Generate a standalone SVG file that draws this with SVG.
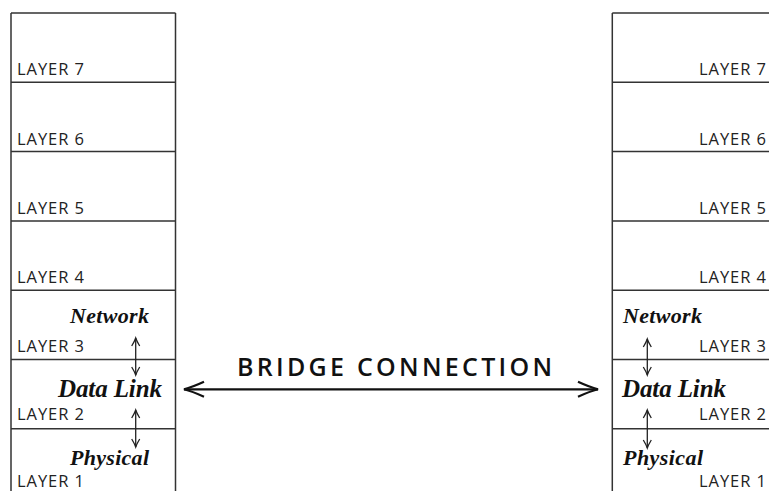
<svg xmlns="http://www.w3.org/2000/svg" width="769" height="491" viewBox="0 0 769 491">
<defs>
<style>
.ln{stroke:#333;stroke-width:1.5;fill:none}
.lay{font-family:"Open Sans","Liberation Sans",sans-serif;font-size:16.5px;fill:#222}
.it{font-family:"Liberation Serif","DejaVu Serif",serif;font-weight:bold;font-style:italic;fill:#111}
.small{stroke:#222;stroke-width:1.3;fill:none}
.big{stroke:#111;stroke-width:2.2;fill:none}
.title{font-family:"Open Sans","Liberation Sans",sans-serif;font-size:25px;font-weight:600;fill:#111}
</style>
<marker id="sa" viewBox="-10 -6 12 12" markerWidth="12" markerHeight="12" refX="0" refY="0" orient="auto-start-reverse" markerUnits="userSpaceOnUse">
<path d="M-8,-4 Q-3,-1 0,0 Q-3,1 -8,4" stroke="#222" stroke-width="1.3" fill="none"/>
</marker>
<marker id="ba" viewBox="-24 -10 26 20" markerWidth="26" markerHeight="20" refX="0" refY="0" orient="auto-start-reverse" markerUnits="userSpaceOnUse">
<path d="M-20,-7.5 Q-8,-2 0,0 Q-8,2 -20,7.5" stroke="#111" stroke-width="2.2" fill="none"/>
</marker>
</defs>
<g id="left-stack">
<path class="ln" d="M11,13 H175.5 M11,13 V491 M175.5,13 V491 M11,82.3 H175.5 M11,151.6 H175.5 M11,220.9 H175.5 M11,290.2 H175.5 M11,359.5 H175.5 M11,428.8 H175.5"/>
</g>
<g id="left-layer7"><text class="lay" x="17" y="75" textLength="67">LAYER 7</text></g>
<g id="left-layer6"><text class="lay" x="17" y="145" textLength="67">LAYER 6</text></g>
<g id="left-layer5"><text class="lay" x="17" y="214" textLength="67">LAYER 5</text></g>
<g id="left-layer4"><text class="lay" x="17" y="283" textLength="67">LAYER 4</text></g>
<g id="left-layer3"><text class="lay" x="17" y="352" textLength="67">LAYER 3</text><text class="it" x="70" y="323" font-size="22" textLength="79">Network</text></g>
<g id="left-layer2"><text class="lay" x="17" y="420" textLength="67">LAYER 2</text><text class="it" x="58" y="397" font-size="25" textLength="104">Data Link</text></g>
<g id="left-layer1"><text class="lay" x="17" y="487" textLength="67">LAYER 1</text><text class="it" x="70" y="465" font-size="22" textLength="79">Physical</text></g>
<g id="right-stack">
<path class="ln" d="M612.3,13 H769 M612.3,13 V491 M612.3,82.3 H769 M612.3,151.6 H769 M612.3,220.9 H769 M612.3,290.2 H769 M612.3,359.5 H769 M612.3,428.8 H769"/>
</g>
<g id="right-layer7"><text class="lay" x="766" y="75" text-anchor="end" textLength="67">LAYER 7</text></g>
<g id="right-layer6"><text class="lay" x="766" y="145" text-anchor="end" textLength="67">LAYER 6</text></g>
<g id="right-layer5"><text class="lay" x="766" y="214" text-anchor="end" textLength="67">LAYER 5</text></g>
<g id="right-layer4"><text class="lay" x="766" y="283" text-anchor="end" textLength="67">LAYER 4</text></g>
<g id="right-layer3"><text class="lay" x="766" y="352" text-anchor="end" textLength="67">LAYER 3</text><text class="it" x="623" y="323" font-size="22" textLength="79">Network</text></g>
<g id="right-layer2"><text class="lay" x="766" y="420" text-anchor="end" textLength="67">LAYER 2</text><text class="it" x="622" y="397" font-size="25" textLength="104">Data Link</text></g>
<g id="right-layer1"><text class="lay" x="766" y="487" text-anchor="end" textLength="67">LAYER 1</text><text class="it" x="623" y="465" font-size="22" textLength="80">Physical</text></g>
<g id="connectors">
<line class="small" x1="135.7" y1="338" x2="135.7" y2="375" marker-start="url(#sa)" marker-end="url(#sa)"/>
<line class="small" x1="135.7" y1="410" x2="135.7" y2="447" marker-start="url(#sa)" marker-end="url(#sa)"/>
<line class="small" x1="647.3" y1="339" x2="647.3" y2="375" marker-start="url(#sa)" marker-end="url(#sa)"/>
<line class="small" x1="647.3" y1="410" x2="647.3" y2="448" marker-start="url(#sa)" marker-end="url(#sa)"/>
<line class="big" x1="184" y1="389.3" x2="598" y2="389.3" marker-start="url(#ba)" marker-end="url(#ba)"/>
<text class="title" x="237" y="376" textLength="315">BRIDGE CONNECTION</text>
</g>
</svg>
